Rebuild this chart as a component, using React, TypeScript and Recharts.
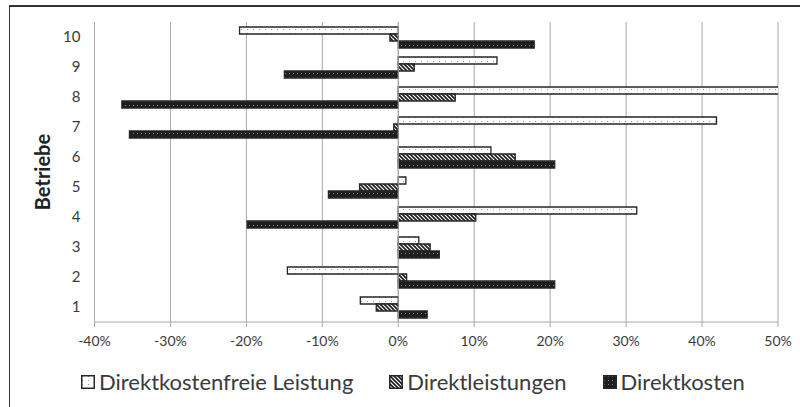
import { BarChart, Bar, XAxis, YAxis, CartesianGrid, ReferenceLine } from 'recharts';

const betriebe = ['1', '2', '3', '4', '5', '6', '7', '8', '9', '10'];
const direktkostenfreieLeistung = [-5.0, -14.6, 2.7, 31.4, 1.0, 12.2, 41.9, 55, 13.0, -20.9];
const direktleistungen = [-2.9, 1.1, 4.2, 10.2, -5.1, 15.4, -0.6, 7.5, 2.1, -1.1];
const direktkosten = [3.8, 20.6, 5.4, -19.9, -9.2, 20.6, -35.4, -36.4, -15.0, 17.9];
const xTicks = [-40, -30, -20, -10, 0, 10, 20, 30, 40, 50];

const series = [
  { key: 'dkf', name: 'Direktkostenfreie Leistung', fill: 'url(#dotsLight)' },
  { key: 'dl', name: 'Direktleistungen', fill: 'url(#hatch)' },
  { key: 'dk', name: 'Direktkosten', fill: 'url(#dotsDark)' },
];

const data = betriebe.map((b, i) => ({
  name: b,
  dkf: direktkostenfreieLeistung[i],
  dl: direktleistungen[i],
  dk: direktkosten[i],
}));

const FONT = 'Lato, "Open Sans", sans-serif';
const TEXT = '#3a3a3a';

function Patterns() {
  return (
    <defs>
      <pattern id="dotsLight" width="6" height="4" patternUnits="userSpaceOnUse">
        <rect width="6" height="4" fill="#ffffff" />
        <rect x="1" y="1" width="1" height="1" fill="#9a9a9a" />
      </pattern>
      <pattern id="hatch" width="4" height="4" patternUnits="userSpaceOnUse">
        <rect width="4" height="4" fill="#ffffff" />
        <path d="M-1,-1 L5,5 M-1,3 L1,5 M3,-1 L5,1" stroke="#1a1a1a" strokeWidth="1.6" />
      </pattern>
      <pattern id="dotsDark" width="4" height="4" patternUnits="userSpaceOnUse">
        <rect width="4" height="4" fill="#1e1e1e" />
        <rect x="1" y="1" width="1" height="1" fill="#8a8a8a" />
      </pattern>
    </defs>
  );
}

function LegendIcon({ fill }: { fill: string }) {
  return (
    <svg width="14" height="14" style={{ marginRight: 4 }}>
      <Patterns />
      <rect x="0.75" y="0.75" width="12.5" height="12.5" fill={fill} stroke="#262626" strokeWidth="1.5" />
    </svg>
  );
}

export default function App() {
  return (
    <div style={{ position: 'absolute', left: 0, top: 0, width: 800, height: 407, background: '#fff', overflow: 'hidden', fontFamily: FONT }}>
      <div style={{ position: 'absolute', left: 9, top: 5, width: 820, height: 430, borderTop: '2px solid #333', borderLeft: '1.5px solid #333', boxSizing: 'border-box' }} />
      <div style={{ position: 'absolute', left: 0, top: 0 }}>
        <BarChart
          width={800}
          height={407}
          data={data}
          layout="vertical"
          margin={{ top: 22, right: 22, bottom: 55, left: 0 }}
          barSize={7}
          barGap={0}
        >
          <Patterns />
          <CartesianGrid horizontal={false} stroke="#a8a8a8" strokeWidth={1} />
          <XAxis
            type="number"
            domain={[-40, 50]}
            ticks={xTicks}
            allowDataOverflow
            tickFormatter={(v: number) => `${v}%`}
            stroke="#a8a8a8"
            tickSize={5}
            tickMargin={9}
            height={30}
            tick={{ fill: TEXT, fontSize: 14, fontFamily: FONT }}
          />
          <YAxis
            type="category"
            dataKey="name"
            reversed
            width={94.5}
            axisLine={false}
            tickLine={false}
            tickMargin={8}
            tick={{ fill: TEXT, fontSize: 15, fontFamily: FONT }}
            label={{ value: 'Betriebe', angle: -90, position: 'center', dx: -4, fill: '#222', fontSize: 20, fontWeight: 700, fontFamily: FONT }}
          />
          <ReferenceLine x={0} stroke="#a8a8a8" />
          {series.map(s => (
            <Bar
              key={s.key}
              dataKey={s.key}
              name={s.name}
              fill={s.fill}
              stroke="#262626"
              strokeWidth={1.3}
              isAnimationActive={false}
            />
          ))}
        </BarChart>
      </div>
      <div style={{ position: 'absolute', left: 81, top: 368, display: 'flex', alignItems: 'center', gap: 36, fontSize: 22, color: TEXT }}>
        {series.map(s => (
          <div key={s.key} style={{ display: 'flex', alignItems: 'center' }}>
            <LegendIcon fill={s.fill} />
            <span>{s.name}</span>
          </div>
        ))}
      </div>
    </div>
  );
}
